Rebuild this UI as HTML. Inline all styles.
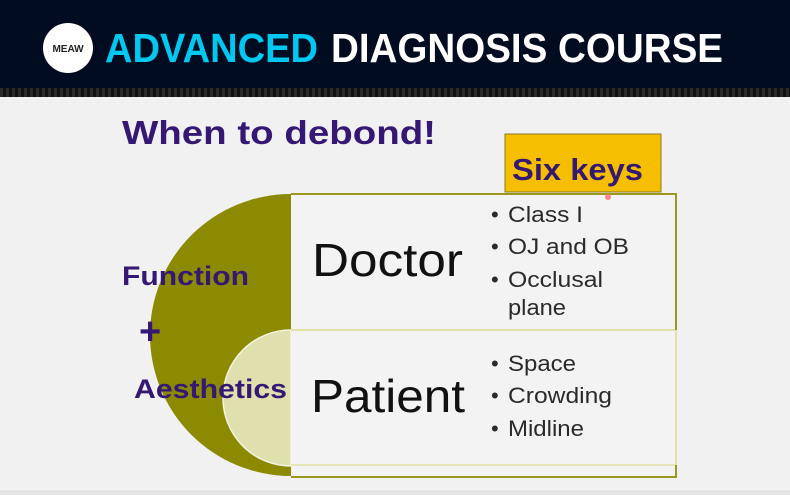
<!DOCTYPE html>
<html><head><meta charset="utf-8"><style>
html,body{margin:0;padding:0;width:790px;height:495px;overflow:hidden;background:#f1f1f1}
svg{display:block}
</style></head><body>
<svg width="790" height="495" viewBox="0 0 790 495" xmlns="http://www.w3.org/2000/svg">
<defs>
<pattern id="dots" width="6" height="8" patternUnits="userSpaceOnUse">
<rect width="6" height="8" fill="#111"/><rect width="3" height="8" fill="#2a2a2a"/>
</pattern>
</defs>
<rect x="0" y="0" width="790" height="89" fill="#020c20"/>
<rect x="0" y="88" width="790" height="9" fill="url(#dots)"/>
<rect x="0" y="97" width="790" height="395" fill="#f1f1f1"/>
<rect x="0" y="490" width="790" height="5" fill="#e4e4e4"/>
<circle cx="68" cy="48" r="25" fill="#fff"/>
<text x="68" y="52" font-family="Liberation Sans, sans-serif" font-weight="bold" font-size="10" fill="#222" text-anchor="middle">MEAW</text>
<text x="105" y="62" font-family="Liberation Sans, sans-serif" font-weight="bold" font-size="41" fill="#00c8f0" textLength="213" lengthAdjust="spacingAndGlyphs">ADVANCED</text>
<text x="331" y="62" font-family="Liberation Sans, sans-serif" font-weight="bold" font-size="41" fill="#fff" textLength="392" lengthAdjust="spacingAndGlyphs">DIAGNOSIS COURSE</text>
<text x="122" y="144" font-family="Liberation Sans, sans-serif" font-weight="bold" font-size="33" fill="#341874" textLength="314" lengthAdjust="spacingAndGlyphs">When to debond!</text>
<path d="M291 194 A141 141 0 0 0 291 476 Z" fill="#8c8a00"/>
<path d="M291 330 A68 68 0 0 0 291 466 Z" fill="#e0dfae" stroke="#f4f4e0" stroke-width="1.5"/>
<rect x="291" y="194" width="385" height="283" fill="#f3f3f3"/>
<line x1="291" y1="330" x2="676" y2="330" stroke="#e2e1a8" stroke-width="2"/>
<line x1="291" y1="465" x2="676" y2="465" stroke="#e2e1a8" stroke-width="1.5"/>
<path d="M291 194 H676 V330" fill="none" stroke="#9a9820" stroke-width="2"/>
<path d="M676 330 V465" fill="none" stroke="#e2e1a8" stroke-width="2"/>
<path d="M291 477 H676 V465" fill="none" stroke="#9a9820" stroke-width="2"/>
<rect x="505" y="134" width="156" height="58" fill="#f5bf00" stroke="#8a7a20" stroke-width="1"/>
<text x="512" y="180" font-family="Liberation Sans, sans-serif" font-weight="bold" font-size="31" fill="#341874" textLength="131" lengthAdjust="spacingAndGlyphs">Six keys</text>
<circle cx="608" cy="197" r="3" fill="#ff6a6a" opacity="0.8"/>
<text x="122" y="285" font-family="Liberation Sans, sans-serif" font-weight="bold" font-size="27" fill="#341874" textLength="127" lengthAdjust="spacingAndGlyphs">Function</text>
<text x="139" y="344" font-family="Liberation Sans, sans-serif" font-weight="bold" font-size="38" fill="#341874">+</text>
<text x="134" y="398" font-family="Liberation Sans, sans-serif" font-weight="bold" font-size="27" fill="#341874" textLength="153" lengthAdjust="spacingAndGlyphs">Aesthetics</text>
<text x="312" y="276" font-family="Liberation Sans, sans-serif" font-size="46" fill="#111" textLength="151" lengthAdjust="spacingAndGlyphs">Doctor</text>
<text x="311" y="412" font-family="Liberation Sans, sans-serif" font-size="46" fill="#111" textLength="154" lengthAdjust="spacingAndGlyphs">Patient</text>
<g font-family="Liberation Sans, sans-serif" font-size="22" fill="#2a2a2a">
<text x="491" y="222">•</text><text x="508" y="222" textLength="75" lengthAdjust="spacingAndGlyphs">Class I</text>
<text x="491" y="254">•</text><text x="508" y="254" textLength="121" lengthAdjust="spacingAndGlyphs">OJ and OB</text>
<text x="491" y="287">•</text><text x="508" y="287" textLength="95" lengthAdjust="spacingAndGlyphs">Occlusal</text>
<text x="508" y="315" textLength="58" lengthAdjust="spacingAndGlyphs">plane</text>
<text x="491" y="371">•</text><text x="508" y="371" textLength="68" lengthAdjust="spacingAndGlyphs">Space</text>
<text x="491" y="403">•</text><text x="508" y="403" textLength="104" lengthAdjust="spacingAndGlyphs">Crowding</text>
<text x="491" y="436">•</text><text x="508" y="436" textLength="76" lengthAdjust="spacingAndGlyphs">Midline</text>
</g>
</svg>
</body></html>
